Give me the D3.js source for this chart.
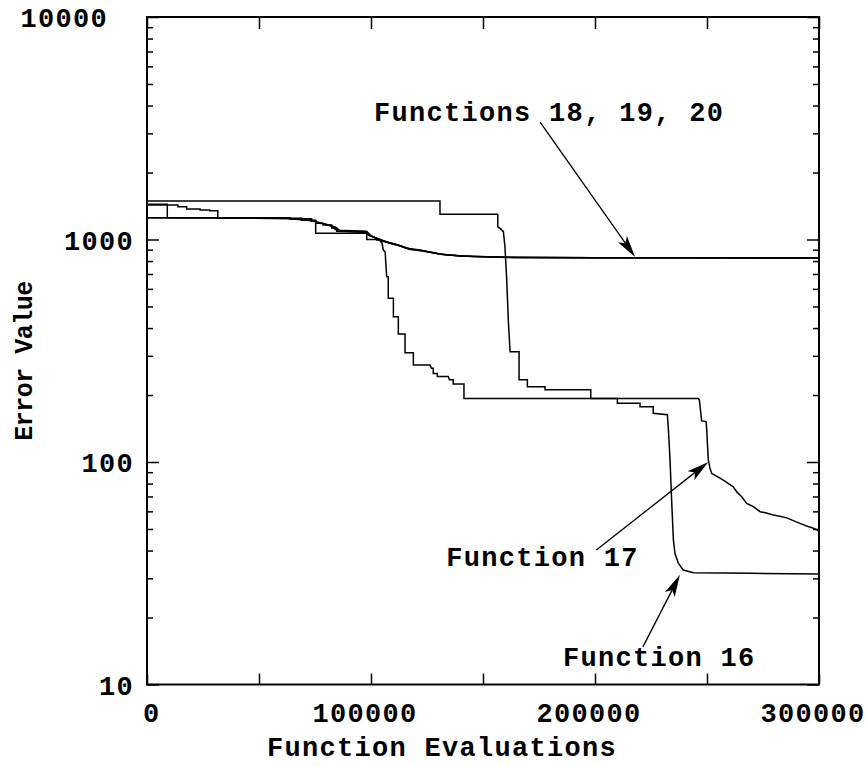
<!DOCTYPE html>
<html><head><meta charset="utf-8">
<script src="https://cdn.jsdelivr.net/npm/d3@7"></script>
<style>
body{margin:0;background:#fff}
svg{display:block}
text{font-family:"Liberation Mono","DejaVu Sans Mono",monospace;font-weight:bold;fill:#000}
</style>
</head><body>
<svg id="chart" width="868" height="766"></svg>
<script>
// ---- data (evaluations in thousands, error value) ----
const xTickValues = [0, 50000, 100000, 150000, 200000, 250000, 300000];
const xTickLabels = ["0", "", "100000", "", "200000", "", "300000"];
const yMajorTicks = [10, 100, 1000, 10000];
const yTickLabels = ["10", "100", "1000", "10000"];
const xAxisTitle = "Function Evaluations";
const yAxisTitle = "Error Value";

const f16 = [[0,1489],[130.8,1489],[130.8,1298],[156.6,1298],[156.6,1141],[157.6,1122],[159.1,1084],[159.8,928],[160.6,658],[161.3,434],[162.1,313],[166.1,313],[166.1,234],[169.8,234],[169.8,218],[177.7,218],[177.7,211],[198.1,211],[198.1,193],[210.0,193],[210.0,183.5],[220.1,183.5],[220.1,177],[226.0,177],[226.0,165.5],[232.3,163],[232.7,144],[233.5,102],[234.2,67.5],[235.0,44.6],[235.7,38.9],[237.2,35.1],[239.4,32.7],[243.9,31.8],[270,31.6],[300,31.4]];
const f17 = [[0,1253],[63.8,1253],[63.8,1240],[73.5,1240],[73.5,1215],[75.3,1215],[75.3,1067],[98.1,1067],[98.1,1000],[104.3,1000],[104.3,977],[104.8,977],[105.5,897],[106.3,881],[107.0,680],[107.7,680],[107.7,544],[110.0,544],[110.0,450],[112.2,450],[112.2,376],[115.2,376],[115.2,310],[118.9,310],[118.9,273],[126.3,273],[127.0,264],[127.8,264],[127.8,250],[129.6,250],[129.6,242],[134.5,242],[135.0,234],[136.7,234],[136.7,224],[141.5,224],[141.5,193],[246.1,193],[246.6,190],[247.6,153],[249.6,152],[249.9,139],[250.2,120],[250.6,102],[251.3,94],[252.1,88.9],[255.8,84.7],[258,82],[261.7,77.4],[263.5,73],[265.5,69.8],[267.7,65.2],[270.7,63],[273.7,59.8],[276.5,59],[279.6,57.8],[282.5,57],[285.6,56.1],[288.5,54.5],[291.5,53],[294.5,51.6],[297.5,50.4],[300,49]];
const f18 = [[0,1439],[9.06,1439],[9.06,1253],[31.6,1253],[31.6,1246],[63.8,1246],[63.8,1236],[69.1,1236],[69.1,1222],[75.3,1222],[75.3,1183],[78.6,1183],[78.6,1162],[82.5,1162],[82.5,1126],[84.7,1126],[84.7,1090],[98.1,1081],[98.8,1047],[102.5,1012],[102.5,995],[107.0,974],[112.2,945],[115.9,913],[121.9,897],[130.8,861],[139.7,843],[160.6,832],[200,828],[300,826]];
const f19 = [[0,1429],[13.8,1429],[13.8,1404],[17.7,1404],[17.7,1371],[23.7,1371],[23.7,1356],[28,1356],[28,1348],[31.6,1348],[31.6,1246],[69.1,1246],[69.1,1222],[73.5,1222],[73.5,1208],[75.3,1208],[75.3,1190],[80,1170],[84,1140],[86,1100],[98,1090],[100,1040],[103,1005],[108,965],[113,935],[117,905],[123,890],[131,858],[140,842],[161,831],[200,828],[300,827]];
const f20 = [[0,1253],[31.6,1253],[63.8,1240],[73.5,1215],[76,1200],[82,1150],[85,1095],[98.1,1075],[99,1045],[104,1000],[108,970],[114,930],[118,905],[125,880],[133,855],[145,838],[165,830],[200,827],[300,825]];
const series = [f16, f17, f18, f19, f20];

// annotations: arrow tip in data coords, tail/label offsets in px from tip
const annotations = [
  {text: "Functions 18, 19, 20", tip: [217900, 834], tail: [-95, -135], label: [-261, -136]},
  {text: "Function 17", tip: [250600, 100], tail: [-112, 88], label: [-262, 104]},
  {text: "Function 16", tip: [237900, 31.1], tail: [-37, 72], label: [-117, 91]}
];

// ---- layout ----
const L = 147, R = 819, T = 17, B = 684.5;
const svg = d3.select("#chart");
const x = d3.scaleLinear().domain([0, 300000]).range([L, R]);
const y = d3.scaleLog().domain([10, 10000]).range([B, T]);

const minorY = [];
yMajorTicks.slice(0, -1).forEach(d => { for (let k = 2; k <= 9; k++) minorY.push(d * k); });

function styleAxis(g) {
  g.select(".domain").remove();
  g.selectAll(".tick line").attr("stroke", "#000").attr("stroke-width", 1.5);
  g.selectAll(".tick text").remove();
}
svg.append("g").attr("transform", `translate(0,${B})`)
  .call(d3.axisBottom(x).tickValues(xTickValues).tickSize(-11)).call(styleAxis);
svg.append("g").attr("transform", `translate(0,${T})`)
  .call(d3.axisTop(x).tickValues(xTickValues).tickSize(-12)).call(styleAxis);
svg.append("g").attr("transform", `translate(${L},0)`)
  .call(d3.axisLeft(y).tickValues(yMajorTicks).tickSize(-12)).call(styleAxis);
svg.append("g").attr("transform", `translate(${L},0)`)
  .call(d3.axisLeft(y).tickValues(minorY).tickSize(-6)).call(styleAxis);
svg.append("g").attr("transform", `translate(${R},0)`)
  .call(d3.axisRight(y).tickValues(yMajorTicks).tickSize(-12)).call(styleAxis);
svg.append("g").attr("transform", `translate(${R},0)`)
  .call(d3.axisRight(y).tickValues(minorY).tickSize(-6)).call(styleAxis);

// frame
svg.append("rect").attr("x", L).attr("y", T).attr("width", R - L).attr("height", B - T)
  .attr("fill", "none").attr("stroke", "#000").attr("stroke-width", 2);

// curves
const line = d3.line().x(d => x(d[0] * 1000)).y(d => y(d[1]));
svg.append("g").selectAll("path").data(series).join("path")
  .attr("d", line).attr("fill", "none").attr("stroke", "#000")
  .attr("stroke-width", 1.5).attr("stroke-linejoin", "miter");

// tick labels
const fs = 27, ls = 1.3;
svg.append("g").selectAll("text").data(xTickValues.map((v, i) => [v, xTickLabels[i]]).filter(d => d[1]))
  .join("text")
  .attr("x", d => x(d[0]) + 7 - 2.15 * d[1].length)
  .attr("y", 722).attr("text-anchor", "middle")
  .attr("font-size", fs).attr("letter-spacing", ls)
  .text(d => d[1]);
svg.append("g").selectAll("text").data(yMajorTicks.map((v, i) => [v, yTickLabels[i]]))
  .join("text")
  .attr("x", d => d[1].length > 4 ? 108 : 134)
  .attr("y", d => y(d[0]) + 10).attr("text-anchor", "end")
  .attr("font-size", fs).attr("letter-spacing", ls)
  .text(d => d[1]);

// axis titles
svg.append("text").attr("x", 442).attr("y", 756).attr("text-anchor", "middle")
  .attr("font-size", fs).attr("letter-spacing", ls).text(xAxisTitle);
svg.append("text").attr("transform", "translate(32,361) rotate(-90)").attr("text-anchor", "middle")
  .attr("font-size", 25).attr("letter-spacing", -0.5).text(yAxisTitle);

// annotations
const ag = svg.append("g");
annotations.forEach(a => {
  const tx = x(a.tip[0]), ty = y(a.tip[1]);
  const sx = tx + a.tail[0], sy = ty + a.tail[1];
  const ang = Math.atan2(ty - sy, tx - sx);
  const Lh = 22, w = 5.5, notch = 5;
  const ca = Math.cos(ang), sa = Math.sin(ang);
  const pt = (u, v) => [tx + u * ca - v * sa, ty + u * sa + v * ca];
  ag.append("line").attr("x1", sx).attr("y1", sy)
    .attr("x2", pt(-Lh + notch + 1, 0)[0]).attr("y2", pt(-Lh + notch + 1, 0)[1])
    .attr("stroke", "#000").attr("stroke-width", 1.3);
  ag.append("path").attr("d", "M" + [pt(0, 0), pt(-Lh, -w), pt(-Lh + notch, 0), pt(-Lh, w)].map(p => p.join(",")).join("L") + "Z")
    .attr("fill", "#000");
  ag.append("text").attr("x", tx + a.label[0]).attr("y", ty + a.label[1])
    .attr("font-size", fs).attr("letter-spacing", ls).text(a.text);
});
</script>
</body></html>
